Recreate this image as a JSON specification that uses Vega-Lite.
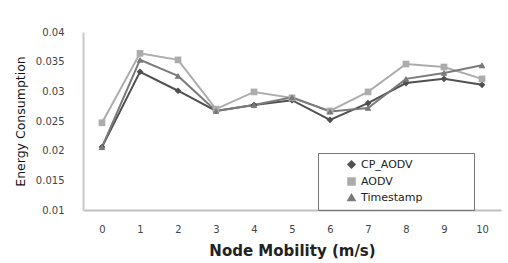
{
  "$schema": "https://vega.github.io/schema/vega-lite/v6.json",
  "width": 418,
  "height": 178,
  "autosize": {"type": "none"},
  "padding": {"left": 83, "top": 32, "right": 7, "bottom": 53},
  "background": "white",
  "config": {"view": {"stroke": null}, "font": "DejaVu Sans"},
  "data": {"values": [
    {"x": 0, "s": "CP_AODV", "v": 0.0206}, {"x": 1, "s": "CP_AODV", "v": 0.0333}, {"x": 2, "s": "CP_AODV", "v": 0.0301}, {"x": 3, "s": "CP_AODV", "v": 0.0267}, {"x": 4, "s": "CP_AODV", "v": 0.0277}, {"x": 5, "s": "CP_AODV", "v": 0.0285}, {"x": 6, "s": "CP_AODV", "v": 0.0252}, {"x": 7, "s": "CP_AODV", "v": 0.028}, {"x": 8, "s": "CP_AODV", "v": 0.0314}, {"x": 9, "s": "CP_AODV", "v": 0.0321}, {"x": 10, "s": "CP_AODV", "v": 0.0311},
    {"x": 0, "s": "AODV", "v": 0.0247}, {"x": 1, "s": "AODV", "v": 0.0364}, {"x": 2, "s": "AODV", "v": 0.0353}, {"x": 3, "s": "AODV", "v": 0.027}, {"x": 4, "s": "AODV", "v": 0.0299}, {"x": 5, "s": "AODV", "v": 0.0289}, {"x": 6, "s": "AODV", "v": 0.0267}, {"x": 7, "s": "AODV", "v": 0.0299}, {"x": 8, "s": "AODV", "v": 0.0346}, {"x": 9, "s": "AODV", "v": 0.0341}, {"x": 10, "s": "AODV", "v": 0.0321},
    {"x": 0, "s": "Timestamp", "v": 0.0206}, {"x": 1, "s": "Timestamp", "v": 0.0353}, {"x": 2, "s": "Timestamp", "v": 0.0326}, {"x": 3, "s": "Timestamp", "v": 0.0267}, {"x": 4, "s": "Timestamp", "v": 0.0277}, {"x": 5, "s": "Timestamp", "v": 0.029}, {"x": 6, "s": "Timestamp", "v": 0.0266}, {"x": 7, "s": "Timestamp", "v": 0.0272}, {"x": 8, "s": "Timestamp", "v": 0.0321}, {"x": 9, "s": "Timestamp", "v": 0.0331}, {"x": 10, "s": "Timestamp", "v": 0.0344}
  ]},
  "encoding": {
    "x": {"field": "x", "type": "ordinal", "scale": {"type": "point", "padding": 0.5},
      "axis": {"title": "Node Mobility (m/s)", "labelAngle": 0, "ticks": false, "domainColor": "#c0c0c0", "domainWidth": 2, "labelColor": "#444", "labelFont": "DejaVu Sans", "labelFontSize": 10, "labelPadding": 14, "titleFont": "DejaVu Sans", "titleFontSize": 15, "titleFontWeight": "bold", "titleColor": "#222", "titlePadding": 9}},
    "y": {"field": "v", "type": "quantitative", "scale": {"domain": [0.01, 0.04]},
      "axis": {"title": "Energy Consumption", "values": [0.01, 0.015, 0.02, 0.025, 0.03, 0.035, 0.04], "format": "~g", "grid": false, "ticks": false, "domainColor": "#c8c8c8", "domainWidth": 2, "labelColor": "#444", "labelFont": "DejaVu Sans", "labelFontSize": 10, "labelPadding": 19, "titleFont": "DejaVu Sans", "titleFontSize": 12.5, "titleFontWeight": "normal", "titleColor": "#111", "titlePadding": 8}},
    "color": {"field": "s", "type": "nominal", "sort": ["CP_AODV", "AODV", "Timestamp"],
      "scale": {"domain": ["CP_AODV", "AODV", "Timestamp"], "range": ["#505050", "#acacac", "#7a7a7a"]},
      "legend": {"title": "xxxxxxx", "titleColor": "rgba(0,0,0,0)", "titleOrient": "right", "titleFontSize": 11, "titleFontWeight": "normal", "titlePadding": 0, "orient": "none", "legendX": 235, "legendY": 121, "strokeColor": "#777", "padding": 6, "symbolOffset": 22, "labelFont": "DejaVu Sans", "labelFontSize": 11, "labelColor": "#222", "rowPadding": 2, "symbolSize": 50}},
    "shape": {"field": "s", "type": "nominal", "sort": ["CP_AODV", "AODV", "Timestamp"],
      "scale": {"domain": ["CP_AODV", "AODV", "Timestamp"], "range": ["diamond", "square", "triangle-up"]}, "legend": null}
  },
  "layer": [
    {"mark": {"type": "line", "strokeWidth": 2}},
    {"mark": {"type": "point", "filled": true, "size": 45, "opacity": 1}}
  ]
}
